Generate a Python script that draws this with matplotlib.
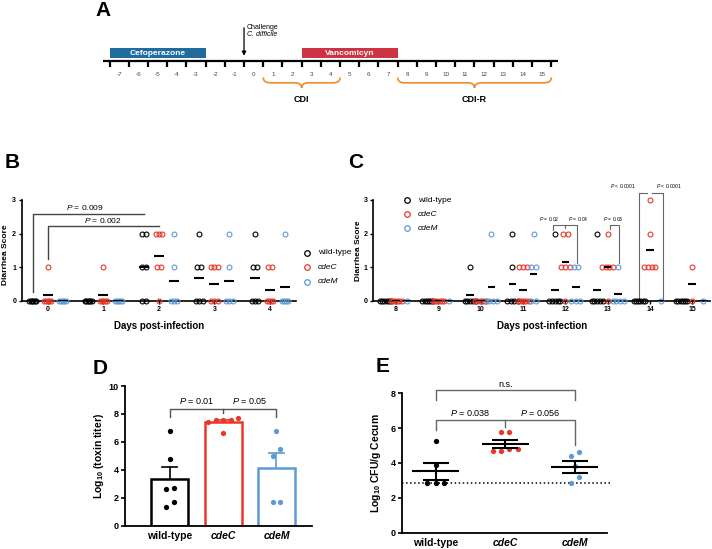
import numpy as np
import matplotlib
matplotlib.use("Agg")
from matplotlib import pyplot as plt
from matplotlib.path import Path
from matplotlib.patches import PathPatch, Rectangle
from matplotlib.lines import Line2D

plt.rcParams['font.family'] = ['Liberation Sans', 'DejaVu Sans']
plt.rcParams['mathtext.fontset'] = 'custom'
plt.rcParams['mathtext.rm'] = 'Liberation Sans'
plt.rcParams['mathtext.it'] = 'Liberation Sans:italic'
plt.rcParams['mathtext.bf'] = 'Liberation Sans:bold'

W, H = 712, 549

# strains
strains = ['wild-type', 'cdeC', 'cdeM']
colors = ['black', '#e8382b', '#5c9bd6']

# A: timeline (days)
timeline_days = list(range(-7, 16))
cefoperazone = (-7, -3)
vancomycin = (3, 7)
challenge_day = 0
cdi = (1, 4)
cdi_r = (8, 15)

# B: diarrhea score, days 0-4
days_b = [0, 1, 2, 3, 4]
wt_b = [[0] * 6, [0] * 6, [2, 2, 1, 1, 0, 0], [2, 1, 1, 0, 0, 0], [2, 1, 1, 0, 0, 0]]
cdeC_b = [[1, 0, 0, 0, 0, 0], [1, 0, 0, 0, 0, 0], [2, 2, 2, 1, 1, 0], [1, 1, 1, 0, 0, 0], [1, 1, 0, 0, 0, 0]]
cdeM_b = [[0] * 5, [0] * 5, [2, 1, 0, 0, 0], [2, 1, 0, 0, 0], [2, 0, 0, 0, 0]]

# C: diarrhea score, days 8-15
days_c = [8, 9, 10, 11, 12, 13, 14, 15]
wt_c = [[0] * 6, [0] * 6, [1, 0, 0, 0, 0, 0], [2, 1, 0, 0, 0, 0], [2, 0, 0, 0, 0, 0],
        [2, 0, 0, 0, 0, 0], [0] * 6, [0] * 6]
cdeC_c = [[0] * 6, [0] * 6, [0] * 6, [1, 1, 1, 0, 0, 0, 0, 0, 0], [2, 2, 1, 1, 1, 0],
          [2, 1, 1, 1, 1, 0], [3, 2, 1, 1, 1, 1], [1, 0]]
cdeM_c = [[0], [0], [2, 0, 0, 0, 0], [2, 1, 1, 0, 0], [1, 1, 0, 0, 0], [1, 0, 0, 0, 0], [0], [0]]

# D: log10 toxin titer
toxin_wt = [6.8, 4.8, 2.7, 2.6, 1.7, 1.35]
toxin_cdeC = [7.6, 7.6, 7.4, 7.6, 7.7, 6.65]
toxin_cdeM = [6.8, 5.5, 5.0, 1.7, 1.7]

# E: log10 CFU/g cecum
cfu_wt = [5.27, 3.89, 2.83, 2.83, 2.83]
cfu_cdeC = [5.8, 5.8, 4.83, 4.69, 4.69, 4.83]
cfu_cdeM = [4.64, 4.41, 3.84, 3.17, 2.83]
detection_limit = 2.83


def rect(x0, x1, top, bottom):
    return [x0 / W, 1 - bottom / H, (x1 - x0) / W, (bottom - top) / H]


def spread(vals, step, span):
    # identical scores are put side by side
    offs = np.zeros(len(vals))
    for v in set(vals):
        idx = [i for i, x in enumerate(vals) if x == v]
        k = len(idx)
        if k > 1:
            s = min(step, span / (k - 1))
            for j, i in enumerate(idx):
                offs[i] = (j - (k - 1) / 2) * s
    return offs


def swarm(vals, gap, step):
    # close values are put side by side
    order = np.argsort(vals)
    offs = np.zeros(len(vals))
    clusters = []
    for i in order:
        if clusters and vals[i] - vals[clusters[-1][-1]] < gap:
            clusters[-1].append(i)
        else:
            clusters.append([i])
    for c in clusters:
        for k, i in enumerate(c):
            offs[i] = (k - (len(c) - 1) / 2) * step
    return offs


def style(ax, lw=1.2):
    for s in ['top', 'right']:
        ax.spines[s].set_visible(False)
    for s in ['left', 'bottom']:
        ax.spines[s].set_linewidth(lw)


def brace(ax, x0, x1, top):
    r = 0.35
    xm = (x0 + x1) / 2
    mid, tip = top + 5.3, top + 10.5
    verts = [(x0, top), (x0, mid), (x0 + r, mid),
             (xm - r, mid), (xm, mid), (xm, tip),
             (xm, mid), (xm + r, mid),
             (x1 - r, mid), (x1, mid), (x1, top)]
    codes = [Path.MOVETO, Path.CURVE3, Path.CURVE3,
             Path.LINETO, Path.CURVE3, Path.CURVE3,
             Path.CURVE3, Path.CURVE3,
             Path.LINETO, Path.CURVE3, Path.CURVE3]
    ax.add_patch(PathPatch(Path(verts, codes), fill=False, ec='#ef8b2c', lw=1.2))


def legend(fig, x, y0, dy):
    for i, (name, col) in enumerate(zip(strains, colors)):
        y = 1 - (y0 + i * dy) / H
        fig.add_artist(Line2D([x / W], [y], marker='o', mfc='none', mec=col, ms=4, mew=0.9,
                              transform=fig.transFigure))
        fig.text((x + 11) / W, y, name, size=6, va='center',
                 style='normal' if i == 0 else 'italic')


def score_panel(ax, days, data, off, step, span):
    for g, (series, col) in enumerate(zip(data, colors)):
        for d, vals in zip(days, series):
            xc = d + (g - 1) * off
            ax.plot(xc + spread(vals, step, span), vals, 'o', mfc='none', mec=col,
                    ms=3.5, mew=0.8, clip_on=False, zorder=3)
            ax.hlines(np.mean(vals), xc - 0.09, xc + 0.09, color='black', lw=1.5, zorder=4)
    style(ax)
    ax.set_ylim(0, 3)
    ax.set_yticks([0, 1, 2, 3], [str(v) for v in [0, 1, 2, 3]], fontweight='bold')
    ax.set_xticks(days, [str(d) for d in days], fontweight='bold')
    ax.tick_params(labelsize=5, length=2.5, width=1, pad=1.5)
    ax.set_xlabel('Days post-infection', fontweight='bold', size=7)
    ax.xaxis.set_label_coords(0.5, -0.2)
    ax.set_ylabel('Diarrhea Score', fontweight='bold', size=6)


fig = plt.figure(figsize=(W / 100, H / 100), dpi=100)

# ---- A
axA = fig.add_axes(rect(102.7, 558, 18, 108))
axA.set_xlim(-7.86, 15.85)
axA.set_ylim(108, 18)
axA.axis('off')
line_y = 60.7
axA.axhline(line_y, color='black', lw=1.6)
edges = np.arange(timeline_days[0] - 0.5, timeline_days[-1] + 1)
axA.vlines(edges, line_y, line_y + 6, color='black', lw=1.6)
for d in timeline_days:
    axA.text(d, 74, str(d), size=4.5, color='#444444', ha='center', va='center')
for (s, e), name, col in [(cefoperazone, 'Cefoperazone', '#1f6c9e'),
                          (vancomycin, 'Vancomicyn', '#cd3342')]:
    axA.add_patch(Rectangle((s - 0.5, 47.7), e - s + 1, 10.8, color=col, lw=0))
    axA.text((s + e) / 2, 53.2, name, color='white', weight='bold', size=6,
             ha='center', va='center')
axA.annotate('', xy=(challenge_day - 0.5, 58.6), xytext=(challenge_day - 0.5, 25),
             arrowprops=dict(arrowstyle='-|>', color='black', lw=0.9, mutation_scale=6))
axA.text(challenge_day - 0.37, 27.7, 'Challenge', size=5, va='center')
axA.text(challenge_day - 0.37, 35, 'C. difficile', size=5, va='center', style='italic')
for (s, e), name in [(cdi, 'CDI'), (cdi_r, 'CDI-R')]:
    brace(axA, s - 0.5, e + 0.5, 77.5)
    axA.text((s + e) / 2, 99, name, size=6.5, weight='bold', ha='center', va='center')

# ---- B
axB = fig.add_axes(rect(21.7, 296, 200, 300.7))
axB.set_xlim(-0.47, 4.47)
score_panel(axB, days_b, [wt_b, cdeC_b, cdeM_b], 0.27, 0.075, 0.12)
axB.yaxis.set_label_coords(-0.046, 0.46)
gray = '#444444'
axB.plot([-0.27, -0.27, 2 - 0.27], [0.27, 2.57, 2.57], color=gray, lw=1, clip_on=False)
axB.plot([0, 0, 2], [1.23, 2.22, 2.22], color=gray, lw=1, clip_on=False)
axB.text(0.67, 2.77, '$P$ = 0.009', size=6, ha='center', va='center')
axB.text(1.0, 2.4, '$P$ = 0.002', size=6, ha='center', va='center')
legend(fig, 307, 252.7, 14.5)

# ---- C
axC = fig.add_axes(rect(373.3, 710, 200, 300.7))
axC.set_xlim(7.46, 15.42)
score_panel(axC, days_c, [wt_c, cdeC_c, cdeM_c], 0.25, 0.105, 0.26)
axC.yaxis.set_label_coords(-0.034, 0.5)
cg = '#666666'
axC.plot([12 - 0.28, 12 - 0.28, 12.28, 12.28], [2.12, 2.25, 2.25, 1.12], color=cg, lw=0.8)
axC.plot([12, 12], [2.25, 2.17], color=cg, lw=0.8)
axC.plot([13.05, 13.05, 13.28, 13.28], [2.15, 2.25, 2.25, 1.12], color=cg, lw=0.8)
axC.plot([13.75, 13.75, 13.94], [0.05, 3.22, 3.22], color=cg, lw=0.8, clip_on=False)
axC.plot([14.06, 14.3, 14.3], [3.22, 3.22, 0.05], color=cg, lw=0.8, clip_on=False)
for x, y, t in [(11.63, 2.42, '$P$ = 0.02'), (12.31, 2.42, '$P$ = 0.04'),
                (13.14, 2.42, '$P$ = 0.03'), (13.36, 3.41, '$P$ < 0.0001'),
                (14.46, 3.41, '$P$ < 0.0001')]:
    axC.text(x, y, t, size=3.6, ha='center', va='center')
legend(fig, 406.7, 200, 14.2)

# ---- D
axD = fig.add_axes(rect(125, 311.7, 386, 525.7))
axD.set_xlim(-0.84, 2.66)
axD.set_ylim(0, 10)
for i, (vals, col) in enumerate(zip([toxin_wt, toxin_cdeC, toxin_cdeM], colors)):
    m = np.mean(vals)
    sem = np.std(vals, ddof=1) / np.sqrt(len(vals))
    axD.bar(i, m, width=0.69, facecolor='white', edgecolor=col, lw=1.8, zorder=1)
    axD.plot([i, i], [m, m + sem], color=col, lw=1.2, zorder=2)
    axD.plot([i - 0.14, i + 0.14], [m + sem, m + sem], color=col, lw=1.2, zorder=2)
    axD.plot(i + swarm(np.array(vals), 0.55, 0.14), vals, 'o', color=col, ms=3.8,
             mew=0, zorder=3, clip_on=False)
style(axD, 1.3)
axD.set_yticks(range(0, 11, 2), [str(v) for v in range(0, 11, 2)], fontweight='bold')
axD.set_xticks(range(3), strains, fontweight='bold')
axD.tick_params(axis='y', labelsize=6.5, length=3, width=1.2, pad=1.5)
axD.tick_params(axis='x', labelsize=7.5, length=0, pad=4)
for lab in axD.get_xticklabels()[1:]:
    lab.set_style('italic')
axD.set_ylabel('Log$_{\\mathbf{10}}$ (toxin titer)', fontweight='bold', size=7.5)
axD.yaxis.set_label_coords(-0.1, 0.5)
dg = '#555555'
axD.plot([0, 0, 2, 2], [7.76, 8.33, 8.33, 7.76], color=dg, lw=1, clip_on=False)
axD.plot([1, 1], [8.33, 8.05], color=dg, lw=1)
axD.text(0.5, 8.9, '$P$ = 0.01', size=6.5, ha='center', va='center')
axD.text(1.5, 8.9, '$P$ = 0.05', size=6.5, ha='center', va='center')

# ---- E
axE = fig.add_axes(rect(401.7, 606.7, 393.3, 532.7))
axE.set_xlim(-0.49, 2.46)
axE.set_ylim(0, 8)
axE.axhline(detection_limit, xmax=1.02, color='black', ls=':', lw=1.1, clip_on=False)
for i, (vals, col) in enumerate(zip([cfu_wt, cfu_cdeC, cfu_cdeM], colors)):
    m = np.mean(vals)
    sem = np.std(vals, ddof=1) / np.sqrt(len(vals))
    axE.plot(i + swarm(np.array(vals), 0.4, 0.12), vals, 'o', color=col, ms=3.8,
             mew=0, zorder=3, clip_on=False)
    axE.hlines(m, i - 0.335, i + 0.335, color='black', lw=1.5, zorder=4)
    axE.hlines([m - sem, m + sem], i - 0.19, i + 0.19, color='black', lw=1.5, zorder=4)
    axE.vlines(i, m - sem, m + sem, color='black', lw=1.5, zorder=4)
style(axE, 1.3)
axE.set_yticks(range(0, 9, 2), [str(v) for v in range(0, 9, 2)], fontweight='bold')
axE.set_xticks(range(3), strains, fontweight='bold')
axE.tick_params(axis='y', labelsize=6.5, length=3, width=1.2, pad=1.5)
axE.tick_params(axis='x', labelsize=7.5, length=0, pad=4)
for lab in axE.get_xticklabels()[1:]:
    lab.set_style('italic')
axE.set_ylabel('Log$_{\\mathbf{10}}$ CFU/g Cecum', fontweight='bold', size=7.5)
axE.yaxis.set_label_coords(-0.093, 0.5)
eg = '#666666'
axE.plot([0, 0, 2, 2], [7.6, 8.17, 8.17, 7.6], color=eg, lw=1, clip_on=False)
axE.text(1, 8.5, 'n.s.', size=6.5, ha='center', va='center')
axE.plot([0, 0, 2, 2], [5.92, 6.45, 6.45, 5.02], color=eg, lw=1)
axE.plot([1, 1], [6.45, 6.07], color=eg, lw=1)
axE.text(0.5, 6.85, '$P$ = 0.038', size=6.5, ha='center', va='center')
axE.text(1.5, 6.85, '$P$ = 0.056', size=6.5, ha='center', va='center')

# panel letters
for t, x, y in [('A', 103, 10), ('B', 12, 162), ('C', 356, 162), ('D', 100, 368), ('E', 383, 367)]:
    fig.text(x / W, 1 - y / H, t, size=15, weight='bold', ha='center', va='center')

fig.savefig('out.png', dpi=100)
